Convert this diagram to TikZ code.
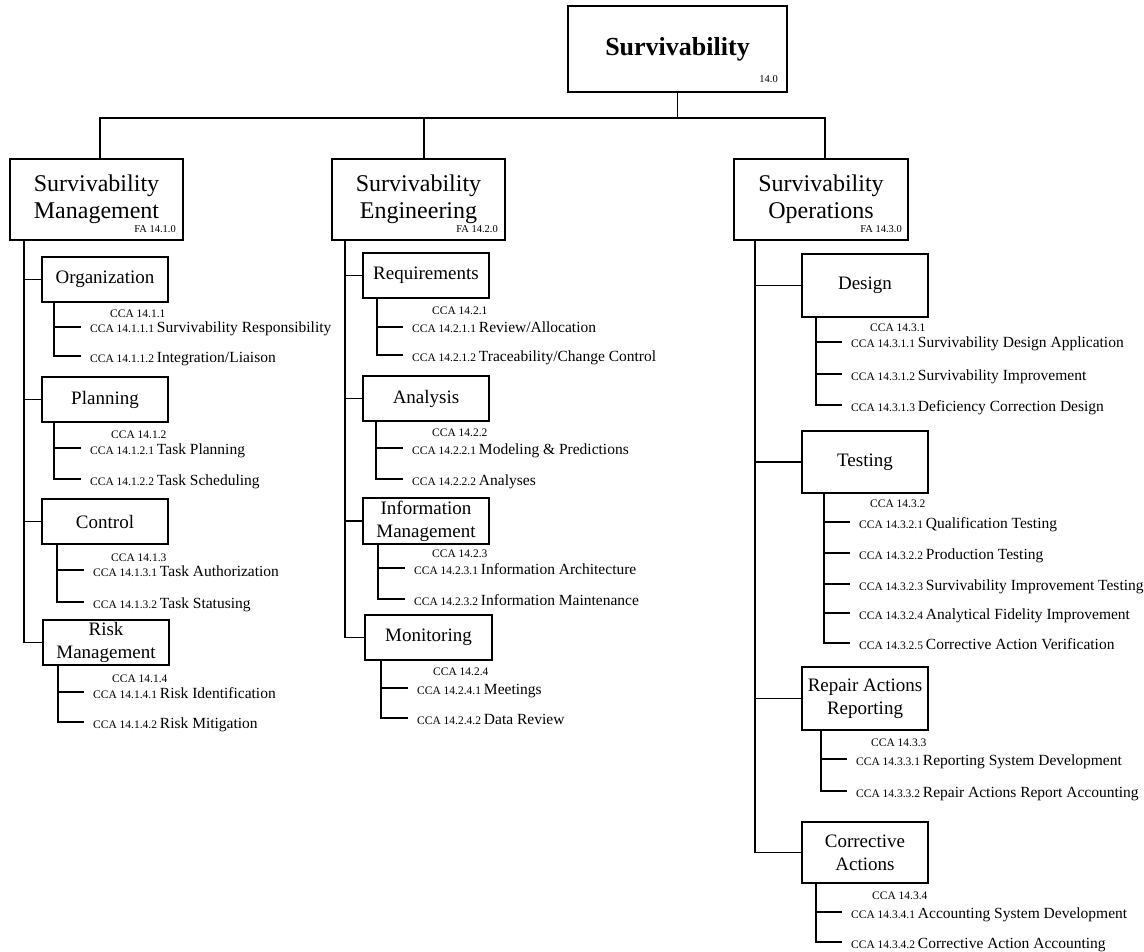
\documentclass[tikz,border=0pt]{standalone}
\usepackage{fontspec}
\setmainfont{Liberation Serif}
\usetikzlibrary{calc}
\newcommand\ccaref[1]{{\fontsize{11.5}{13}\selectfont CCA #1 }}
\tikzset{
  topbox/.style={draw, line width=1.8pt, minimum width=219pt, minimum height=86pt, inner sep=0pt, font=\fontsize{26}{30}\selectfont\bfseries},
  fabox/.style={draw, line width=1.8pt, minimum width=173pt, minimum height=81pt, inner sep=0pt, align=center, font=\fontsize{24}{27}\selectfont},
  subbox/.style={draw, line width=1.8pt, minimum width=126pt, minimum height=45pt, inner sep=0pt, align=center, font=\fontsize{19}{23}\selectfont},
  tagtext/.style={anchor=base east, inner sep=0pt, font=\fontsize{10.5}{12}\selectfont},
  hdrtext/.style={anchor=base west, inner sep=0pt, font=\fontsize{11.5}{13}\selectfont},
  itemtext/.style={anchor=base west, inner sep=0pt, text height=12pt, text depth=0pt, font=\fontsize{15.5}{18}\selectfont},
  conn/.style={line width=1.8pt}
}
\begin{document}
\begin{tikzpicture}[x=1pt,y=-1pt]
\useasboundingbox (0,0) rectangle (1144,952);

% top
\node[topbox] (top) at (677.5,49) {\raisebox{2pt}{Survivability}};
\node[tagtext] (toptag) at (778,83) {14.0};

% functional areas
\node[fabox] (sm) at (96.5,199.5) {Survivability\\Management};
\node[tagtext] (smtag) at (176,233) {FA 14.1.0};
\node[fabox] (se) at (418.5,199.5) {Survivability\\Engineering};
\node[tagtext] (setag) at (498,233) {FA 14.2.0};
\node[fabox, minimum width=174pt] (so) at (821,199.5) {Survivability\\Operations};
\node[tagtext] (sotag) at (902,233) {FA 14.3.0};

% bus
\coordinate (busL) at (100,118);
\coordinate (busM) at (424,118);
\coordinate (busR) at (825,118);
\draw[conn] (top.south) -- (top.south |- busL);
\draw[conn] (busL |- sm.north) -- (busL) -- (busR) -- (busR |- so.north);
\draw[conn] (busM) -- (busM |- se.north);

% ---------- Survivability Management ----------
\node[subbox] (org) at (105,279.5) {Organization};
\node[subbox] (plan) at (105,399.5) {Planning};
\node[subbox] (ctrl) at (105,521.5) {Control};
\node[subbox] (risk) at (106,642.5) {Risk\\Management};
\coordinate (vsm) at ($(sm.south west)+(15,0)$);
\draw[conn] (vsm) |- (risk.west);
\foreach \n in {org,plan,ctrl} \draw[conn] (vsm |- \n.west) -- (\n.west);

\node[hdrtext] (h11) at (110,317) {CCA 14.1.1};
\node[itemtext] (i111) at (90,333) {\ccaref{14.1.1.1}Survivability Responsibility};
\node[itemtext] (i112) at (90,362) {\ccaref{14.1.1.2}Integration/Liaison};
\coordinate (vorg) at ($(org.south west)+(13,0)$);
\draw[conn] (vorg) |- ([xshift=-9pt]i112.west);
\draw[conn] (vorg |- i111.west) -- ([xshift=-9pt]i111.west);

\node[hdrtext] (h12) at (111,438) {CCA 14.1.2};
\node[itemtext] (i121) at (90,454) {\ccaref{14.1.2.1}Task Planning};
\node[itemtext] (i122) at (90,485) {\ccaref{14.1.2.2}Task Scheduling};
\coordinate (vplan) at ($(plan.south west)+(13,0)$);
\draw[conn] (vplan) |- ([xshift=-9pt]i122.west);
\draw[conn] (vplan |- i121.west) -- ([xshift=-9pt]i121.west);

\node[hdrtext] (h13) at (111,561) {CCA 14.1.3};
\node[itemtext] (i131) at (93,576) {\ccaref{14.1.3.1}Task Authorization};
\node[itemtext] (i132) at (93,608) {\ccaref{14.1.3.2}Task Statusing};
\coordinate (vctrl) at ($(ctrl.south west)+(16,0)$);
\draw[conn] (vctrl) |- ([xshift=-9pt]i132.west);
\draw[conn] (vctrl |- i131.west) -- ([xshift=-9pt]i131.west);

\node[hdrtext] (h14) at (112,682) {CCA 14.1.4};
\node[itemtext] (i141) at (93,698) {\ccaref{14.1.4.1}Risk Identification};
\node[itemtext] (i142) at (93,728) {\ccaref{14.1.4.2}Risk Mitigation};
\coordinate (vrisk) at ($(risk.south west)+(16,0)$);
\draw[conn] (vrisk) |- ([xshift=-9pt]i142.west);
\draw[conn] (vrisk |- i141.west) -- ([xshift=-9pt]i141.west);

% ---------- Survivability Engineering ----------
\node[subbox] (req) at (426,275.5) {Requirements};
\node[subbox] (ana) at (426,398.5) {Analysis};
\node[subbox, minimum height=46pt] (info) at (426,521) {Information\\Management};
\node[subbox, minimum width=127pt] (mon) at (428.5,637.5) {Monitoring};
\coordinate (vse) at ($(se.south west)+(14,0)$);
\draw[conn] (vse) |- (mon.west);
\foreach \n in {req,ana,info} \draw[conn] (vse |- \n.west) -- (\n.west);

\node[hdrtext] (h21) at (432,315) {CCA 14.2.1};
\node[itemtext] (i211) at (412,333) {\ccaref{14.2.1.1}Review/Allocation};
\node[itemtext] (i212) at (412,361) {\ccaref{14.2.1.2}Traceability/Change Control};
\coordinate (vreq) at ($(req.south west)+(15,0)$);
\draw[conn] (vreq) |- ([xshift=-9pt]i212.west);
\draw[conn] (vreq |- i211.west) -- ([xshift=-9pt]i211.west);

\node[hdrtext] (h22) at (432,436) {CCA 14.2.2};
\node[itemtext] (i221) at (412,454) {\ccaref{14.2.2.1}Modeling \& Predictions};
\node[itemtext] (i222) at (412,485) {\ccaref{14.2.2.2}Analyses};
\coordinate (vana) at ($(ana.south west)+(14,0)$);
\draw[conn] (vana) |- ([xshift=-9pt]i222.west);
\draw[conn] (vana |- i221.west) -- ([xshift=-9pt]i221.west);

\node[hdrtext] (h23) at (432,557) {CCA 14.2.3};
\node[itemtext] (i231) at (414,574) {\ccaref{14.2.3.1}Information Architecture};
\node[itemtext] (i232) at (414,605) {\ccaref{14.2.3.2}Information Maintenance};
\coordinate (vinfo) at ($(info.south west)+(16,0)$);
\draw[conn] (vinfo) |- ([xshift=-9pt]i232.west);
\draw[conn] (vinfo |- i231.west) -- ([xshift=-9pt]i231.west);

\node[hdrtext] (h24) at (433,675) {CCA 14.2.4};
\node[itemtext] (i241) at (417,694) {\ccaref{14.2.4.1}Meetings};
\node[itemtext] (i242) at (417,724) {\ccaref{14.2.4.2}Data Review};
\coordinate (vmon) at ($(mon.south west)+(17,0)$);
\draw[conn] (vmon) |- ([xshift=-9pt]i242.west);
\draw[conn] (vmon |- i241.west) -- ([xshift=-9pt]i241.west);

% ---------- Survivability Operations ----------
\node[subbox, minimum height=63pt] (des) at (865,285.5) {Design};
\node[subbox, minimum height=62pt] (tst) at (865,462) {Testing};
\node[subbox, minimum height=63pt] (rep) at (865,698.5) {Repair Actions\\Reporting};
\node[subbox, minimum height=61pt] (cor) at (865,852.5) {Corrective\\Actions};
\coordinate (vso) at ($(so.south west)+(22,0)$);
\draw[conn] (vso) |- (cor.west);
\foreach \n in {des,tst,rep} \draw[conn] (vso |- \n.west) -- (\n.west);

\node[hdrtext] (h31) at (870,331) {CCA 14.3.1};
\node[itemtext] (i311) at (851,348) {\ccaref{14.3.1.1}Survivability Design Application};
\node[itemtext] (i312) at (851,380) {\ccaref{14.3.1.2}Survivability Improvement};
\node[itemtext] (i313) at (851,411) {\ccaref{14.3.1.3}Deficiency Correction Design};
\coordinate (vdes) at ($(des.south west)+(15,0)$);
\draw[conn] (vdes) |- ([xshift=-9pt]i313.west);
\foreach \n in {i311,i312} \draw[conn] (vdes |- \n.west) -- ([xshift=-9pt]\n.west);

\node[hdrtext] (h32) at (870,507) {CCA 14.3.2};
\node[itemtext] (i321) at (859,528) {\ccaref{14.3.2.1}Qualification Testing};
\node[itemtext] (i322) at (859,559) {\ccaref{14.3.2.2}Production Testing};
\node[itemtext] (i323) at (859,590) {\ccaref{14.3.2.3}Survivability Improvement Testing};
\node[itemtext] (i324) at (859,619) {\ccaref{14.3.2.4}Analytical Fidelity Improvement};
\node[itemtext] (i325) at (859,649) {\ccaref{14.3.2.5}Corrective Action Verification};
\coordinate (vtst) at ($(tst.south west)+(23,0)$);
\draw[conn] (vtst) |- ([xshift=-9pt]i325.west);
\foreach \n in {i321,i322,i323,i324} \draw[conn] (vtst |- \n.west) -- ([xshift=-9pt]\n.west);

\node[hdrtext] (h33) at (871,746) {CCA 14.3.3};
\node[itemtext] (i331) at (856,765) {\ccaref{14.3.3.1}Reporting System Development};
\node[itemtext] (i332) at (856,797) {\ccaref{14.3.3.2}Repair Actions Report Accounting};
\coordinate (vrep) at ($(rep.south west)+(20,0)$);
\draw[conn] (vrep) |- ([xshift=-9pt]i332.west);
\draw[conn] (vrep |- i331.west) -- ([xshift=-9pt]i331.west);

\node[hdrtext] (h34) at (872,899) {CCA 14.3.4};
\node[itemtext] (i341) at (851,918) {\ccaref{14.3.4.1}Accounting System Development};
\node[itemtext] (i342) at (851,948) {\ccaref{14.3.4.2}Corrective Action Accounting};
\coordinate (vcor) at ($(cor.south west)+(15,0)$);
\draw[conn] (vcor) |- ([xshift=-9pt]i342.west);
\draw[conn] (vcor |- i341.west) -- ([xshift=-9pt]i341.west);
\end{tikzpicture}
\end{document}
